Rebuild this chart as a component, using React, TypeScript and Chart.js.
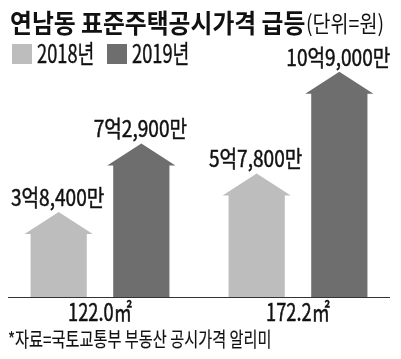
import React, { useEffect, useRef } from "react";
import { Chart, registerables } from "chart.js";

Chart.register(...registerables);

// ---- data (unit: 만원) ----
const categories = ["122.0㎡", "172.2㎡"];
const seriesNames = ["2018년", "2019년"];
const values2018 = [38400, 57800];
const values2019 = [72900, 109000];
const seriesColors = ["#bdbdbd", "#6e6e6e"];
const titleMain = "연남동 표준주택공시가격 급등";
const titleUnit = "(단위=원)";
const sourceNote = "*자료=국토교통부 부동산 공시가격 알리미";

const FONT = "'Noto Sans CJK KR', 'Noto Sans', sans-serif";

function formatWon(v: number): string {
  const eok = Math.floor(v / 10000);
  const man = v % 10000;
  const manStr = man.toLocaleString("en-US");
  return (eok > 0 ? eok + "억" : "") + (man > 0 ? manStr + "만" : "");
}

function drawCondensed(
  ctx: CanvasRenderingContext2D,
  text: string,
  x: number,
  y: number,
  font: string,
  sx: number,
  align: CanvasTextAlign
) {
  ctx.save();
  ctx.translate(x, y);
  ctx.scale(sx, 1);
  ctx.font = font;
  ctx.textAlign = align;
  ctx.textBaseline = "alphabetic";
  ctx.fillStyle = "#111";
  ctx.strokeStyle = "#111";
  ctx.lineWidth = 0.5;
  ctx.fillText(text, 0, 0);
  ctx.strokeText(text, 0, 0);
  ctx.restore();
}

const housePlugin = {
  id: "houses",
  afterDatasetsDraw(chart: any) {
    const ctx: CanvasRenderingContext2D = chart.ctx;
    const area = chart.chartArea;
    const roofH = 22;
    const eave = 6;
    // baseline
    ctx.save();
    ctx.strokeStyle = "#333";
    ctx.lineWidth = 1;
    ctx.beginPath();
    ctx.moveTo(8, Math.round(area.bottom) + 0.5);
    ctx.lineTo(390, Math.round(area.bottom) + 0.5);
    ctx.stroke();
    ctx.restore();

    chart.data.datasets.forEach((ds: any, di: number) => {
      const meta = chart.getDatasetMeta(di);
      meta.data.forEach((el: any, i: number) => {
        const { x, y, width } = el.getProps(["x", "y", "width"], true);
        const bottom = area.bottom;
        const left = x - width / 2;
        const right = x + width / 2;
        ctx.save();
        ctx.fillStyle = seriesColors[di];
        ctx.beginPath();
        ctx.moveTo(left, bottom);
        ctx.lineTo(left, y + roofH);
        ctx.lineTo(left - eave, y + roofH);
        ctx.lineTo(x, y);
        ctx.lineTo(right + eave, y + roofH);
        ctx.lineTo(right, y + roofH);
        ctx.lineTo(right, bottom);
        ctx.closePath();
        ctx.fill();
        ctx.restore();
        drawCondensed(ctx, formatWon(ds.data[i]), x - 1, y - 6, `23px ${FONT}`, 0.83, "center");
      });
    });

    const xs = chart.scales.x;
    categories.forEach((c, i) => {
      drawCondensed(ctx, c, xs.getPixelForValue(i), 321, `24px ${FONT}`, 0.76, "center");
    });
  },
};

export default function App() {
  const ref = useRef<HTMLCanvasElement>(null);
  useEffect(() => {
    document.body.style.margin = "0";
    const chart = new Chart(ref.current as HTMLCanvasElement, {
      type: "bar",
      data: {
        labels: categories,
        datasets: [
          { label: seriesNames[0], data: values2018, backgroundColor: "rgba(0,0,0,0)" },
          { label: seriesNames[1], data: values2019, backgroundColor: "rgba(0,0,0,0)" },
        ],
      },
      options: {
        responsive: false,
        animation: false,
        devicePixelRatio: 1,
        categoryPercentage: 0.835,
        barPercentage: 0.68,
        layout: { padding: { left: 1, right: 4, top: 50, bottom: 62 } },
        scales: {
          x: { display: false },
          y: { display: false, min: -4500, max: 120000 },
        },
        plugins: { legend: { display: false }, tooltip: { enabled: false }, title: { display: false } },
      } as any,
      plugins: [housePlugin],
    });
    return () => chart.destroy();
  }, []);

  const condensed = (sx: number): React.CSSProperties => ({
    display: "inline-block",
    transform: `scaleX(${sx})`,
    transformOrigin: "left top",
    whiteSpace: "nowrap",
  });

  return (
    <div style={{ position: "relative", width: 401, height: 359, background: "#fff", fontFamily: FONT, color: "#111", overflow: "hidden" }}>
      <canvas ref={ref} width={401} height={359} style={{ position: "absolute", left: 0, top: 0, width: 401, height: 359 }} />
      <div style={{ position: "absolute", left: 10, top: 9, fontSize: 26, fontWeight: 700, lineHeight: "26px", ...condensed(0.915) }}>{titleMain}</div>
      <div style={{ position: "absolute", left: 306, top: 11, fontSize: 23, fontWeight: 400, lineHeight: "23px", ...condensed(0.85) }}>{titleUnit}</div>
      {seriesNames.map((n, i) => (
        <div key={n} style={{ position: "absolute", left: i === 0 ? 12 : 107, top: 44, height: 20 }}>
          <div style={{ position: "absolute", left: 0, top: 0, width: 20, height: 20, background: seriesColors[i] }} />
          <div style={{ position: "absolute", left: 25, top: -4, fontSize: 25, lineHeight: "25px", WebkitTextStroke: "0.4px #111", ...condensed(0.73) }}>{n}</div>
        </div>
      ))}
      <div style={{ position: "absolute", left: 8, top: 329, fontSize: 20, lineHeight: "20px", WebkitTextStroke: "0.2px #111", ...condensed(0.76) }}>{sourceNote}</div>
    </div>
  );
}
